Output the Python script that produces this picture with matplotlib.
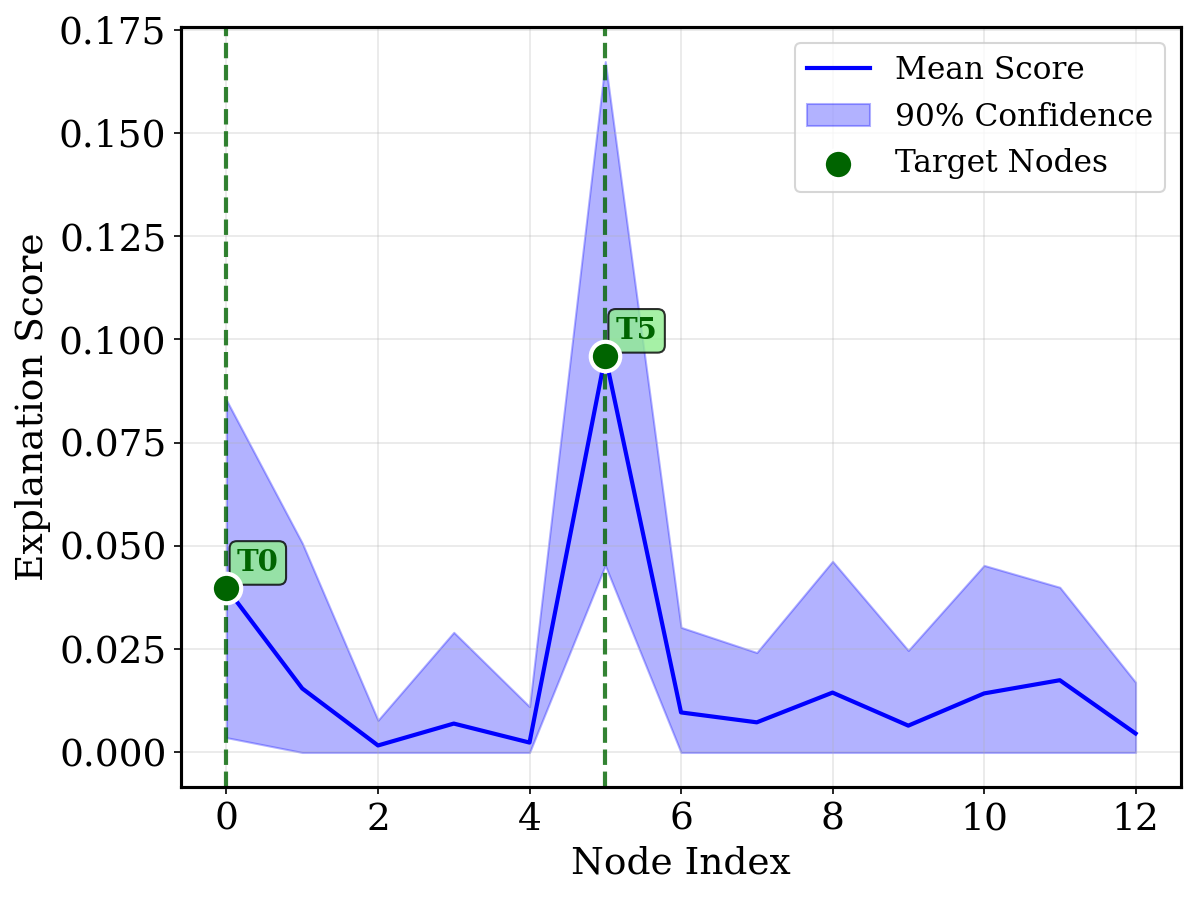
import numpy as np
import matplotlib.pyplot as plt

plt.rcParams['font.family'] = 'DejaVu Serif'

node_idx = np.arange(13)
mean_score = [0.0398, 0.0155, 0.0017, 0.0070, 0.0024, 0.0960, 0.0097,
              0.0073, 0.0145, 0.0065, 0.0143, 0.0175, 0.0046]
upper = [0.0853, 0.0507, 0.0078, 0.0291, 0.0111, 0.1673, 0.0303,
         0.0242, 0.0463, 0.0247, 0.0453, 0.0400, 0.0170]
lower = [0.0036, 0.0, 0.0, 0.0, 0.0, 0.0453, 0.0,
         0.0, 0.0, 0.0, 0.0, 0.0, 0.0]
targets = [0, 5]

fig, ax = plt.subplots(figsize=(1195 / 150, 897 / 150), dpi=150)
fig.subplots_adjust(left=0.1515, right=0.9883, top=0.9699, bottom=0.1226)

ax.plot(node_idx, mean_score, color='blue', linewidth=2, label='Mean Score')
ax.fill_between(node_idx, lower, upper, color='blue', alpha=0.3, label='90% Confidence')

for t in targets:
    ax.axvline(t, color='darkgreen', linestyle='--', linewidth=2, alpha=0.8)

ax.scatter([node_idx[t] for t in targets], [mean_score[t] for t in targets],
           color='darkgreen', s=200, edgecolor='white', linewidth=2, zorder=5,
           label='Target Nodes')

for t in targets:
    ax.annotate(f'T{t}', (node_idx[t], mean_score[t]), xytext=(5, 8),
                textcoords='offset points', fontsize=14, fontweight='bold',
                color='darkgreen',
                bbox=dict(boxstyle='round,pad=0.25', facecolor='lightgreen', alpha=0.8))

ax.set_xlabel('Node Index', fontsize=18)
ax.set_ylabel('Explanation Score', fontsize=18)
ax.tick_params(labelsize=18)
ax.grid(True, alpha=0.3)
ax.legend(fontsize=15)
for s in ax.spines.values():
    s.set_linewidth(1.5)

plt.savefig('out.png', dpi=150)
